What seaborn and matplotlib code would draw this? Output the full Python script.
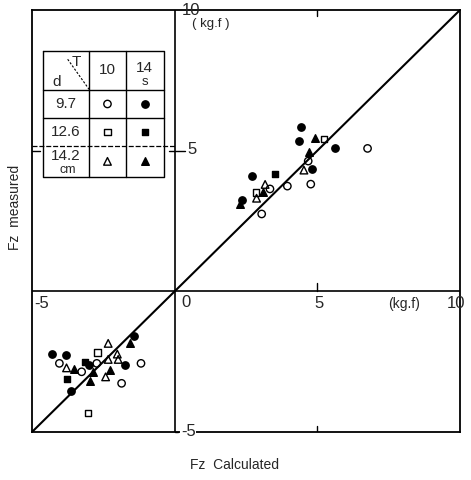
import matplotlib
matplotlib.use("Agg")
import matplotlib.pyplot as plt
import numpy as np
import pandas as pd
import seaborn as sns

# Measured vs calculated vertical force Fz (kg.f), grouped by depth d (cm) and period T (s)
depths = [9.7, 12.6, 14.2]
periods = [10, 14]

# d = 9.7 cm, T = 10 s (open circle)
c97_10_calc = [6.76, 4.68, 4.77, 3.95, 3.34, 3.05, -4.04, -3.26, -2.73, -1.18, -1.86]
c97_10_meas = [5.08, 4.63, 3.81, 3.74, 3.64, 2.75, -2.56, -2.86, -2.56, -2.56, -3.27]
# d = 9.7 cm, T = 14 s (filled circle)
c97_14_calc = [4.44, 4.36, 5.63, 4.81, 2.70, 2.35, -4.31, -3.81, -2.99, -3.63, -1.42, -1.74]
c97_14_meas = [5.85, 5.35, 5.08, 4.34, 4.11, 3.25, -2.23, -2.26, -2.62, -3.53, -1.59, -2.62]
# d = 12.6 cm, T = 10 s (open square)
c126_10_calc = [5.24, 2.85, -2.71, -3.03]
c126_10_meas = [5.41, 3.52, -2.18, -4.32]
# d = 12.6 cm, T = 14 s (filled square)
c126_14_calc = [3.52, -3.14, -3.79]
c126_14_meas = [4.16, -2.50, -3.13]
# d = 14.2 cm, T = 10 s (open triangle)
c142_10_calc = [4.53, 3.17, 2.87, -3.79, -2.33, -2.01, -1.98, -2.33, -2.42]
c142_10_meas = [4.31, 3.80, 3.31, -2.72, -1.85, -2.23, -2.42, -2.42, -3.04]
# d = 14.2 cm, T = 14 s (filled triangle)
c142_14_calc = [4.92, 4.72, 3.11, 2.29, -3.52, -2.87, -2.97, -1.57, -2.27]
c142_14_meas = [5.44, 4.96, 3.54, 3.09, -2.77, -2.86, -3.18, -1.83, -2.80]

groups = [
    (9.7, 10, c97_10_calc, c97_10_meas),
    (9.7, 14, c97_14_calc, c97_14_meas),
    (12.6, 10, c126_10_calc, c126_10_meas),
    (12.6, 14, c126_14_calc, c126_14_meas),
    (14.2, 10, c142_10_calc, c142_10_meas),
    (14.2, 14, c142_14_calc, c142_14_meas),
]
df = pd.concat(
    [pd.DataFrame({"calc": xs, "meas": ys, "d": d, "T": t}) for d, t, xs, ys in groups],
    ignore_index=True,
)

marker_for_d = {9.7: "o", 12.6: "s", 14.2: "^"}
face_for_T = {10: "none", 14: "black"}
size_for_d = {9.7: 28, 12.6: 22, 14.2: 30}

sns.set_style("white")
plt.rcParams["font.family"] = ["Liberation Sans", "DejaVu Sans"]

W, H = 471, 480
fig = plt.figure(figsize=(W / 100, H / 100), dpi=100)
ax = fig.add_axes([32 / W, 1 - 432 / H, (460 - 32) / W, (432 - 10) / H])
ax.set_xlim(-5, 10)
ax.set_ylim(-5, 10)
ax.set_xticks([])
ax.set_yticks([])
for sp in ax.spines.values():
    sp.set_color("black")
    sp.set_linewidth(1.3)

# zero axes crossing the frame and the 1:1 line
ax.axhline(0, color="black", lw=1.2, zorder=1)
ax.axvline(0, color="black", lw=1.2, zorder=1)
ax.plot([-5, 10], [-5, 10], color="black", lw=1.5, zorder=2)

# small tick marks
tk = 0.28
ax.plot([5, 5], [0, tk], color="black", lw=1)
ax.plot([5, 5], [10, 10 - tk * 0.7], color="black", lw=1)
ax.plot([5, 5], [-5, -5 + tk * 0.7], color="black", lw=1)
ax.plot([-5, -5 + tk], [5, 5], color="black", lw=1)
ax.plot([-0.2, 0.35], [5, 5], color="black", lw=1)
ax.plot([0, 0.12], [-5, -5], color="black", lw=1, clip_on=False)

for (d, t), sub in df.groupby(["d", "T"]):
    sns.scatterplot(
        data=sub, x="calc", y="meas", ax=ax, legend=False,
        marker=marker_for_d[d], s=size_for_d[d], color="black",
        facecolor=face_for_T[t], edgecolor="black", linewidth=1.0, zorder=3,
    )
ax.set_xlabel("")
ax.set_ylabel("")

fs = 12
# value labels along the zero axes
ax.text(0.25, 10, "10", fontsize=fs, ha="left", va="center", clip_on=False)
ax.text(0.6, 9.5, "( kg.f )", fontsize=9.5, ha="left", va="center")
ax.text(0.45, 5.05, "5", fontsize=fs, ha="left", va="center")
ax.text(0.22, -5, "-5", fontsize=fs, ha="left", va="center", clip_on=False,
        bbox=dict(facecolor="white", edgecolor="none", pad=0.5))
ax.text(-4.92, -0.45, "-5", fontsize=fs, ha="left", va="center")
ax.text(0.4, -0.4, "0", fontsize=fs, ha="center", va="center")
ax.text(5.05, -0.45, "5", fontsize=fs, ha="center", va="center")
ax.text(8.05, -0.45, "(kg.f)", fontsize=10, ha="center", va="center")
ax.text(9.85, -0.45, "10", fontsize=fs, ha="center", va="center", clip_on=False)

# key table for depth d and period T
xl, x1, x2, xr = -4.62, -3.00, -1.71, -0.38
yt, y1, y2, y3, yb = 8.54, 7.16, 6.16, 5.17, 4.07
tbl = dict(color="black", lw=1.0)
ax.plot([xl, xr, xr, xl, xl], [yt, yt, yb, yb, yt], **tbl)
for yy in (y1, y2):
    ax.plot([xl, xr], [yy, yy], **tbl)
ax.plot([-5, 0], [y3, y3], color="black", lw=0.9, ls=(0, (4, 1.5)))
for xx in (x1, x2):
    ax.plot([xx, xx], [yt, yb], **tbl)
ax.plot([-3.75, -3.0], [8.25, 7.18], color="black", lw=0.8, ls=(0, (2, 1.5)))
ax.text(-3.45, 8.15, "T", fontsize=11, ha="center", va="center")
ax.text(-4.12, 7.45, "d", fontsize=11, ha="center", va="center")
xc1 = (x1 + x2) / 2
xc2 = (x2 + xr) / 2
ax.text(xc1, 7.85, f"{periods[0]}", fontsize=11, ha="center", va="center")
ax.text(xc2, 7.95, f"{periods[1]}", fontsize=11, ha="center", va="center")
ax.text(xc2, 7.45, "s", fontsize=9.5, ha="center", va="center")
row_y = [(y1 + y2) / 2, (y2 + y3) / 2, 4.80]
for d, yy in zip(depths, row_y):
    ax.text((xl + x1) / 2, yy, f"{d}", fontsize=11, ha="center", va="center")
for d, yy in zip(depths, [(y1 + y2) / 2, (y2 + y3) / 2, (y3 + yb) / 2]):
    for t, xx in zip(periods, (xc1, xc2)):
        ax.scatter([xx], [yy], marker=marker_for_d[d],
                   s=size_for_d[d], facecolor=face_for_T[t], edgecolor="black",
                   linewidth=1.0, zorder=3)
ax.text((xl + x1) / 2 + 0.05, 4.30, "cm", fontsize=9, ha="center", va="center")

fig.text(15 / W, 1 - 207 / H, "Fz  measured", rotation=90, fontsize=10,
         ha="center", va="center")
fig.text(235 / W, 1 - 465 / H, "Fz  Calculated", fontsize=10,
         ha="center", va="center")

fig.savefig("out.png", dpi=100, facecolor="white")
